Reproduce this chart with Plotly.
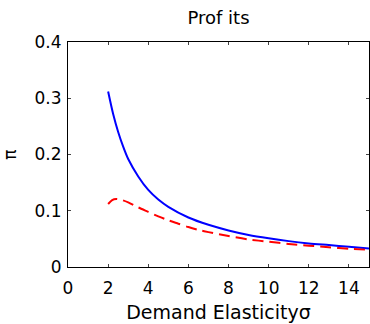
import plotly.graph_objects as go

sigma_blue = [2.0, 2.25, 2.5, 2.75, 3.0, 3.5, 4.0, 4.5, 5.0, 6.0, 7.0, 8.0, 9.0, 10.0, 11.0, 12.0, 13.0, 14.0, 15.0]
profit_blue = [0.312, 0.272, 0.240, 0.214, 0.192, 0.161, 0.137, 0.120, 0.107, 0.088, 0.075, 0.065, 0.057, 0.051, 0.046, 0.042, 0.039, 0.036, 0.033]

sigma_red = [2.0, 2.2, 2.4, 2.7, 3.0, 3.5, 4.0, 4.5, 5.0, 5.5, 6.0, 6.5, 7.0, 8.0, 9.0, 10.0, 11.0, 12.0, 13.0, 14.0, 15.0]
profit_red = [0.112, 0.119, 0.121, 0.119, 0.115, 0.106, 0.098, 0.090, 0.083, 0.077, 0.071, 0.066, 0.062, 0.055, 0.049, 0.045, 0.041, 0.038, 0.035, 0.0325, 0.0305]

x_ticks = [0, 2, 4, 6, 8, 10, 12, 14]
y_ticks = [0, 0.1, 0.2, 0.3, 0.4]
y_ticklabels = ["0", "0.1", "0.2", "0.3", "0.4"]

fig = go.Figure()
fig.add_trace(go.Scatter(x=sigma_blue, y=profit_blue, mode="lines",
                         line=dict(color="#0000FF", width=2, shape="spline", smoothing=0.8),
                         showlegend=False))
fig.add_trace(go.Scatter(x=sigma_red, y=profit_red, mode="lines",
                         line=dict(color="#FF0000", width=2, dash="11px,6px", shape="spline", smoothing=0.8),
                         showlegend=False))

font_family = "DejaVu Sans, Liberation Sans, sans-serif"
fig.update_layout(
    width=370, height=324,
    margin=dict(l=68, r=1, t=42, b=57, autoexpand=False),
    paper_bgcolor="white", plot_bgcolor="white",
    font=dict(family=font_family, color="black"),
    title=dict(text="Prof its", x=0.5, xref="paper", xanchor="center",
               y=1 - 18 / 324, yref="container", yanchor="middle",
               font=dict(size=18, family=font_family, color="black"),
               automargin=False),
)
fig.update_xaxes(range=[0, 15], tickvals=x_ticks, ticks="inside", ticklen=3,
                 showline=True, linecolor="black", linewidth=1, mirror="ticks",
                 showgrid=False, zeroline=False, automargin=False,
                 ticklabelstandoff=6,
                 tickfont=dict(size=17),
                 title=dict(text="Demand Elasticityσ", font=dict(size=19), standoff=8))
fig.update_yaxes(range=[0, 0.4], tickvals=y_ticks, ticktext=y_ticklabels, ticks="inside", ticklen=3,
                 showline=True, linecolor="black", linewidth=1, mirror="ticks",
                 showgrid=False, zeroline=False, automargin=False,
                 ticklabelstandoff=2,
                 tickfont=dict(size=17),
                 title=dict(text="π", font=dict(size=17), standoff=23))

fig.write_html("out.html", config={"displayModeBar": False},
               post_script="document.body.style.margin='0';")
